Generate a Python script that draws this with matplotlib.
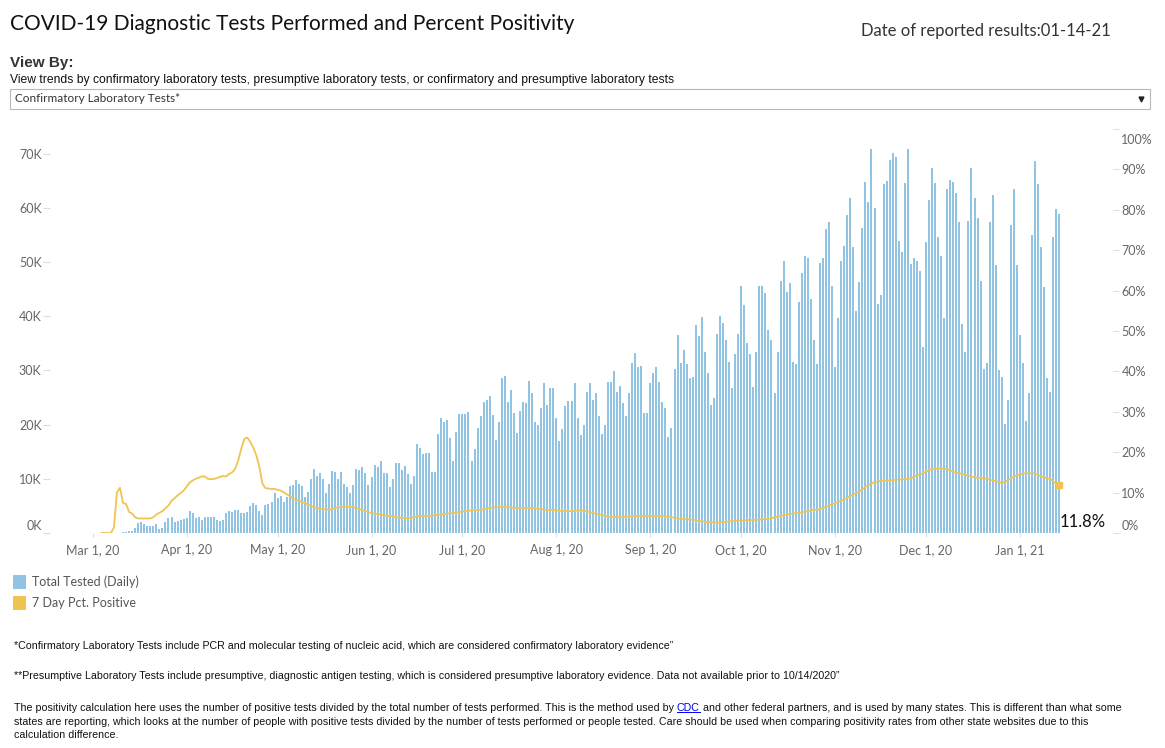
import numpy as np
import pandas as pd
import matplotlib
matplotlib.use('Agg')
import matplotlib.pyplot as plt
import matplotlib.transforms as mtransforms
from matplotlib.patches import Rectangle
from matplotlib.lines import Line2D

plt.rcParams['font.family'] = ['Lato', 'DejaVu Sans']

W, H = 1165, 748

# daily confirmatory tests (thousands), first bar on bar_start
bar_start = '2020-03-11'
total_tested_k = [
    0.1, 0.1, 0.3, 0.3, 1.0, 1.8, 2.0, 1.6, 1.2, 1.2, 1.2, 1.6, 0.7, 1.0, 2.0, 2.8,
    3.0, 2.0, 2.2, 2.4, 2.6, 2.8, 4.0, 3.6, 2.8, 3.0, 2.4, 3.0, 3.0, 3.0, 3.0, 2.4,
    2.2, 2.4, 3.6, 4.0, 3.8, 4.3, 4.3, 3.6, 3.6, 3.8, 4.9, 5.5, 5.1, 4.1,
    3.4, 5.1, 5.3, 5.8, 7.3, 6.4, 6.9, 5.7, 6.7, 8.6, 8.8, 9.7, 9.1, 8.6, 6.7, 7.6,
    9.9, 11.9, 10.5, 11.0, 9.9, 7.4, 9.1, 11.5, 11.3, 9.9, 11.3, 9.0, 8.4, 7.4, 8.8,
    11.9, 11.7, 12.1, 11.0, 8.8, 10.3, 12.6, 12.2, 13.2, 11.0, 11.0, 8.4, 9.9, 13.0,
    13.0, 11.7, 12.4, 10.8, 9.1, 10.6, 16.5, 15.6,
    14.5, 14.7, 14.7, 11.3, 11.3, 18.2, 21.3, 20.5, 20.9, 17.6, 13.2, 18.6, 21.9, 21.9,
    22.0, 22.4, 13.2, 15.5, 19.3, 21.5, 24.1, 24.6, 25.3, 21.7, 17.2, 20.4, 28.6, 29.0,
    24.1, 26.3, 22.2, 18.4, 22.6, 24.1, 23.9, 28.0, 25.9, 20.4, 20.0, 23.0, 27.6, 23.7,
    26.7, 26.7, 21.3, 16.9, 19.1, 23.4, 24.3, 24.3, 27.6, 21.3,
    18.0, 20.0, 26.1, 27.6, 24.6, 25.9, 21.5, 18.2, 20.0, 27.8, 27.8, 29.8, 26.1, 27.2,
    23.9, 21.5, 25.9, 31.3, 33.2, 30.7, 30.9, 22.2, 22.2, 27.6, 29.6, 30.7, 27.8, 24.1,
    23.0, 17.8, 19.3, 30.3, 36.5, 31.3, 33.8, 31.1, 28.6, 28.8, 38.3, 36.3, 39.8, 33.4,
    29.6, 23.6, 25.0, 36.8, 40.1, 38.8, 35.7, 31.5, 26.7, 33.0, 36.8,
    45.5, 42.0, 35.0, 33.0, 26.9, 33.4, 45.5, 45.5, 44.2, 37.4, 35.7, 25.9, 33.4, 46.5,
    50.1, 44.4, 46.1, 31.5, 31.1, 42.7, 47.9, 51.1, 50.7, 43.2, 35.7, 31.1, 49.9, 50.7,
    56.0, 57.3, 45.5, 30.7, 39.6, 50.1, 53.0, 58.6, 61.9, 52.7, 40.9, 46.3, 56.3, 64.8,
    61.0, 70.8, 60.0, 42.3, 44.0, 64.4, 65.0,
    68.9, 70.2, 69.4, 53.8, 51.9, 64.6, 70.9, 49.7, 50.7, 50.1, 48.4, 34.4, 53.6, 61.5,
    67.3, 64.6, 54.7, 51.1, 39.6, 63.4, 65.2, 64.8, 62.7, 57.3, 38.6, 33.4, 57.5, 67.3,
    61.9, 58.2, 46.5, 30.2, 31.3, 57.3, 62.3, 49.4, 30.0, 28.8, 20.2, 24.5, 56.9, 63.4,
    49.4, 36.6, 31.3, 20.7, 25.9, 54.9, 68.6, 64.4, 52.8, 45.3, 28.6, 26.1, 54.7, 59.7,
    58.8,
]

# 7 day percent positive, first point on line_start
line_start = '2020-03-04'
pct_positive = [
    0, 0, 0, 0, 1.4, 10.1, 11.2, 7.4, 7.2, 5.2,
    4.8, 3.9, 3.6, 3.6, 3.6, 3.6, 3.6, 3.9, 4.6, 5.0,
    5.4, 6.1, 6.8, 8.0, 8.6, 9.3, 9.9, 10.5, 11.5, 12.5,
    13.0, 13.4, 13.7, 14.0, 14.0, 13.4, 13.3, 13.4, 13.6, 13.9,
    14.1, 14.0, 14.6, 15.0, 15.9, 17.9, 20.8, 23.3, 23.6, 22.6,
    21.1, 19.2, 16.3, 12.2, 11.1, 11.0, 10.9, 10.9, 10.7, 10.5,
    10.1, 9.6, 9.2, 8.5, 8.2, 8.0, 7.7, 7.4, 7.1, 6.7,
    6.4, 6.2, 6.0, 5.9, 5.8, 5.8, 5.9, 6.2, 6.3, 6.4,
    6.5, 6.5, 6.5, 6.4, 6.2, 5.9, 5.7, 5.4, 5.2, 4.9,
    4.8, 4.7, 4.6, 4.5, 4.3, 4.2, 4.1, 4.0, 3.8, 3.8,
    3.7, 3.7, 3.7, 3.9, 4.1, 4.2, 4.2, 4.2, 4.3, 4.3,
    4.4, 4.5, 4.6, 4.7, 4.8, 4.9, 5.0, 5.1, 5.2, 5.3,
    5.4, 5.5, 5.6, 5.7, 5.7, 5.7, 5.9, 6.0, 6.2, 6.3,
    6.4, 6.5, 6.5, 6.4, 6.4, 6.3, 6.3, 6.2, 6.2, 6.2,
    6.2, 6.2, 6.1, 6.1, 6.0, 5.9, 5.8, 5.7, 5.7, 5.7,
    5.6, 5.5, 5.5, 5.4, 5.4, 5.4, 5.5, 5.6, 5.6, 5.5,
    5.4, 5.2, 5.0, 4.8, 4.6, 4.5, 4.3, 4.1, 4.0, 4.0,
    3.9, 3.9, 4.0, 4.0, 4.1, 4.2, 4.2, 4.2, 4.2, 4.2,
    4.2, 4.2, 4.2, 4.2, 4.2, 4.2, 4.1, 4.1, 3.9, 3.8,
    3.6, 3.5, 3.5, 3.4, 3.4, 3.3, 3.2, 3.0, 2.9, 2.8,
    2.7, 2.7, 2.6, 2.6, 2.6, 2.7, 2.8, 2.9, 2.9, 3.0,
    3.1, 3.1, 3.1, 3.2, 3.2, 3.2, 3.3, 3.3, 3.4, 3.4,
    3.5, 3.7, 3.9, 4.0, 4.2, 4.4, 4.6, 4.7, 4.8, 4.9,
    5.0, 5.1, 5.3, 5.4, 5.6, 5.7, 5.8, 5.9, 6.2, 6.5,
    6.8, 7.1, 7.4, 7.7, 8.0, 8.3, 8.7, 9.1, 9.5, 9.9,
    10.3, 10.8, 11.4, 11.8, 12.3, 12.5, 12.7, 12.9, 13.0, 13.0,
    13.0, 13.1, 13.2, 13.2, 13.3, 13.3, 13.4, 13.6, 13.9, 14.2,
    14.5, 14.8, 15.2, 15.6, 15.8, 15.9, 15.9, 16.0, 15.9, 15.7,
    15.5, 15.2, 14.9, 14.8, 14.6, 14.4, 14.2, 13.9, 13.8, 13.7,
    13.6, 13.5, 13.4, 13.2, 13.0, 12.8, 12.6, 12.5, 12.6, 13.0,
    13.5, 14.0, 14.3, 14.5, 14.7, 14.8, 14.8, 14.8, 14.7, 14.4,
    14.0, 13.8, 13.5, 13.4, 12.8, 12.1, 11.8,
]

tests_ticks_k = [0, 10, 20, 30, 40, 50, 60, 70]
pct_ticks = [0, 10, 20, 30, 40, 50, 60, 70, 80, 90, 100]
month_ticks = pd.date_range('2020-03-01', '2021-01-01', freq='MS')

BLUE = '#91c4e2'
GOLD = '#f0c453'
GRAY = '#666666'
TICK = '#dddddd'

bar_dates = pd.date_range(bar_start, periods=len(total_tested_k), freq='D')
line_dates = pd.date_range(line_start, periods=len(pct_positive), freq='D')


def fx(x):
    return x / W


def fy(y):
    return 1 - y / H


fig = plt.figure(figsize=(W / 100, H / 100), dpi=100)
fig.patch.set_facecolor('white')

# plot area: baseline at y=533, 100% at y=129
ax = fig.add_axes([fx(50), fy(533), (1113 - 50) / W, (533 - 129) / H])
ax2 = ax.twinx()

ax.bar(bar_dates, np.array(total_tested_k) * 1000, width=0.66, color=BLUE, linewidth=0)
ax2.plot(line_dates, pct_positive, color=GOLD, lw=1.3, solid_joinstyle='round')
ax2.plot(line_dates[-1:], pct_positive[-1:], marker='s', ms=4, color=GOLD, lw=0)

x0 = pd.Timestamp('2020-03-01')
ax.set_xlim(x0 - pd.Timedelta(days=14.1), x0 + pd.Timedelta(days=336.7))
ax.set_ylim(0, 74540)
ax2.set_ylim(0, 100)

ax.set_yticks([k * 1000 for k in tests_ticks_k])
ax.set_yticklabels([f'{k}K' for k in tests_ticks_k])
ax2.set_yticks(pct_ticks)
ax2.set_yticklabels([f'{p}%' for p in pct_ticks])
ax.set_xticks(month_ticks)
ax.set_xticklabels([f'{d:%b} {d.day}, {d:%y}' for d in month_ticks])

ax.tick_params(axis='y', length=5, width=0.8, color=TICK, pad=1,
               labelsize=9, labelcolor=GRAY)
ax2.tick_params(axis='y', length=4, width=0.8, color=TICK, pad=2,
                labelsize=9, labelcolor=GRAY)
ax.tick_params(axis='x', length=3, width=0.8, color=TICK, pad=5,
               labelsize=9, labelcolor=GRAY)

for a in (ax, ax2):
    for s in a.spines.values():
        s.set_visible(False)

# tableau keeps edge labels inside the pane
up = mtransforms.ScaledTranslation(0, 8 / 100, fig.dpi_scale_trans)
down = mtransforms.ScaledTranslation(0, -10 / 100, fig.dpi_scale_trans)
ax.get_yticklabels()[0].set_transform(ax.get_yticklabels()[0].get_transform() + up)
lab2 = ax2.get_yticklabels()
lab2[0].set_transform(lab2[0].get_transform() + up)
lab2[-1].set_transform(lab2[-1].get_transform() + down)

fig.text(fx(1060), fy(522), '11.8%', fontsize=12, color='#111111', va='center', ha='left')

# header
fig.text(fx(10), fy(24), 'COVID-19 Diagnostic Tests Performed and Percent Positivity',
         fontsize=15, color='#111111', va='center')
fig.text(fx(1111), fy(31), 'Date of reported results:01-14-21', fontsize=12,
         color='#333333', va='center', ha='right')
fig.text(fx(10), fy(63), 'View By:', fontsize=11, fontweight='bold',
         family='Liberation Sans', color='#333333', va='center')
fig.text(fx(10), fy(80), 'View trends by confirmatory laboratory tests, presumptive laboratory '
         'tests, or confirmatory and presumptive laboratory tests',
         fontsize=8.7, family='Liberation Sans', color='#111111', va='center')
fig.patches.append(Rectangle((fx(10), fy(109)), 1140 / W, 20 / H, transform=fig.transFigure,
                             fill=False, ec='#b8b8b8', lw=0.8))
fig.text(fx(15), fy(99), 'Confirmatory Laboratory Tests*', fontsize=8.5, color='#333333',
         va='center')
fig.add_artist(Line2D([fx(1141)], [fy(99)], marker='v', ms=3.5, color='#222222',
                      transform=fig.transFigure))

# legend
for yy, col, lab in [(582, BLUE, 'Total Tested (Daily)'), (603, GOLD, '7 Day Pct. Positive')]:
    fig.patches.append(Rectangle((fx(13), fy(yy + 7)), 13 / W, 14 / H,
                                 transform=fig.transFigure, color=col, lw=0))
    fig.text(fx(32), fy(yy), lab, fontsize=9, color='#555555', va='center')

# footnotes
FS = 7.7
note = dict(fontsize=FS, family='Liberation Sans', color='#111111', va='center')
fig.text(fx(14), fy(646), '*Confirmatory Laboratory Tests include PCR and molecular testing of '
         'nucleic acid, which are considered confirmatory laboratory evidence\u201d', **note)
fig.text(fx(14), fy(676), '**Presumptive Laboratory Tests include presumptive, diagnostic antigen '
         'testing, which is considered presumptive laboratory evidence. Data not available '
         'prior to 10/14/2020\u201d', **note)

p1 = ('The positivity calculation here uses the number of positive tests divided by the total '
      'number of tests performed. This is the method used by')
p1b = ('and other federal partners, and is used by many states. This is different than what some')
t1 = fig.text(fx(14), fy(708), p1, **note)
fig.canvas.draw()
rend = fig.canvas.get_renderer()
space = FS * 0.278 * 100 / 72
bb = t1.get_window_extent(renderer=rend)
cdc = fig.text((bb.x1 + space) / W, fy(708), 'CDC', **dict(note, color='#0000ee'))
bb2 = cdc.get_window_extent(renderer=rend)
fig.add_artist(Line2D([bb2.x0 / W, bb2.x1 / W], [(bb2.y0 + 1) / H] * 2, color='#0000ee',
                      lw=0.7, transform=fig.transFigure))
fig.text((bb2.x1 + space) / W, fy(708), p1b, **note)
fig.text(fx(14), fy(722), 'states are reporting, which looks at the number of people with positive '
         'tests divided by the number of tests performed or people tested. Care should be used '
         'when comparing positivity rates from other state websites due to this', **note)
fig.text(fx(14), fy(735), 'calculation difference.', **note)

fig.savefig('out.png', dpi=100, facecolor='white')
